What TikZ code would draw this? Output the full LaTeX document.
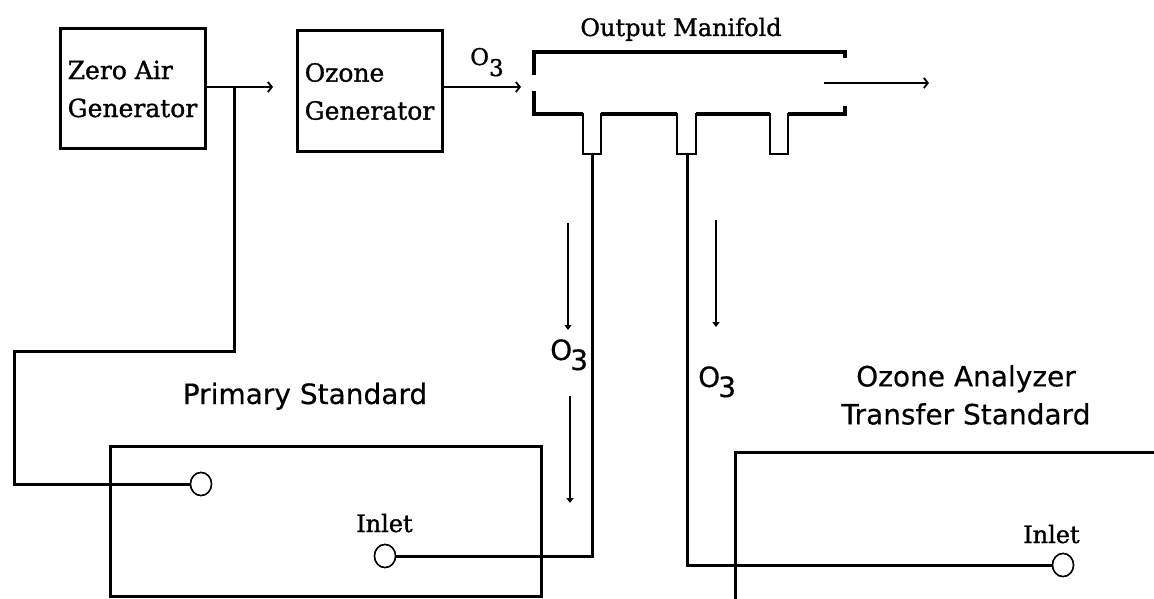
\documentclass[tikz,border=0pt]{standalone}
\usepackage{fontspec}
\setmainfont{DejaVu Serif}[FakeBold=1.2]
\newfontfamily\sansA{DejaVu Sans}[FakeBold=0.4]
\usetikzlibrary{arrows.meta,shapes.geometric}
\newcommand{\othreeserif}{O\raisebox{-11pt}{3}}
\newcommand{\othreesans}{O\kern-2pt\raisebox{-10pt}{3}}
\begin{document}
\begin{tikzpicture}[x=1pt,y=-1pt,
  box/.style={draw, line width=3pt, inner sep=0pt},
  pipe/.style={line width=3pt},
  mani/.style={line width=3.4pt},
  port/.style={line width=1.9pt},
  flow/.style={line width=1.3pt, -{Triangle[length=5pt,width=7pt]}},
  harrow/.style={line width=2.8pt, -{Straight Barb[length=4pt,width=10pt,line width=1.8pt]}},
  inletc/.style={draw, ellipse, line width=1.5pt, fill=white, minimum width=21pt, minimum height=23pt, inner sep=0pt},
  lab/.style={inner sep=0pt},
  boxtext/.style={font=\fontsize{25pt}{38pt}\selectfont},
  seriflab/.style={lab, font=\fontsize{24pt}{30pt}\selectfont},
  sanslab/.style={lab, font=\sansA\fontsize{28pt}{38pt}\selectfont}
]
\useasboundingbox (0,0) rectangle (1154,599);
\clip (0,0) rectangle (1154,599);

% generator boxes
\node[box, boxtext, align=left, minimum width=145pt, minimum height=120pt] (zag) at (132.5,89) {Zero Air\\Generator};
\node[box, boxtext, align=left, minimum width=145pt, minimum height=121pt] (og) at (369.5,91.5) {Ozone\\Generator};

% standards boxes
\node[box, minimum width=431pt, minimum height=150pt] (ps) at (325.5,521) {};
\node[box, anchor=north west, minimum width=500pt, minimum height=200pt] (ts) at (734,451) {};

% coordinates
\coordinate (za) at (273,87);
\coordinate (zj) at (234,87);
\coordinate (z1) at (234,351);
\coordinate (z2) at (14,351);
\coordinate (z3) at (14,484);
\coordinate (mi) at (521,87);
\coordinate (p1) at (592,154);
\coordinate (p1b) at (592,556);
\coordinate (p2) at (687,154);
\coordinate (p2b) at (687,565);
\coordinate (o1) at (824,83);
\coordinate (o2) at (929,83);

% horizontal arrows
\draw[harrow] (zag.east |- za) -- (za);
\draw[harrow] (og.east |- mi) -- (mi);
\draw[harrow] (o1) -- (o2);

% manifold
\draw[mani] (534,75) -- (534,52) -- (845,52) -- (845,58);
\draw[mani] (534,91) -- (534,114) -- (583,114);
\draw[mani] (601,114) -- (677,114);
\draw[mani] (696,114) -- (770,114);
\draw[mani] (788,114) -- (845,114) -- (845,106);
\draw[port] (583,113) -- (583,154) -- (601,154) -- (601,113);
\draw[port] (677,113) -- (677,154) -- (696,154) -- (696,113);
\draw[port] (770,113) -- (770,154) -- (788,154) -- (788,113);

% inlet circles
\node[inletc] (c1) at (201,484) {};
\node[inletc] (c2) at (385,556) {};
\node[inletc] (c3) at (1063,565) {};

% pipes
\draw[pipe] (zj) -- (z1) -- (z2) -- (z3) -- (c1.west);
\draw[pipe] (c2.east) -- (p1b) -- (p1);
\draw[pipe] (p2) -- (p2b) -- (c3.west);
\node[inletc] at (c1) {};
\node[inletc] at (c2) {};
\node[inletc] at (c3) {};

% flow arrows
\coordinate (f1a) at (568,223); \coordinate (f1b) at (568,330);
\coordinate (f2a) at (570,396); \coordinate (f2b) at (570,503);
\coordinate (f3a) at (716,220); \coordinate (f3b) at (716,327);
\draw[flow] (f1a) -- (f1b);
\draw[flow] (f2a) -- (f2b);
\draw[flow] (f3a) -- (f3b);

% labels
\node[seriflab, anchor=base] (om) at (681,36) {Output Manifold};
\node[seriflab, anchor=base west, font=\fontsize{23pt}{28pt}\selectfont] (o3a) at (470,65) {\othreeserif};
\node[sanslab, anchor=base west] (o3b) at (550,360) {\othreesans};
\node[sanslab, anchor=base west] (o3c) at (698,387) {\othreesans};
\node[sanslab, anchor=base] (pst) at (305,404) {Primary Standard};
\node[sanslab, align=center] (tst) at (966,395) {Ozone Analyzer\\Transfer Standard};
\node[seriflab, anchor=base west] (in1) at (356,532) {Inlet};
\node[seriflab, anchor=base west] (in2) at (1023,543) {Inlet};
\end{tikzpicture}
\end{document}
